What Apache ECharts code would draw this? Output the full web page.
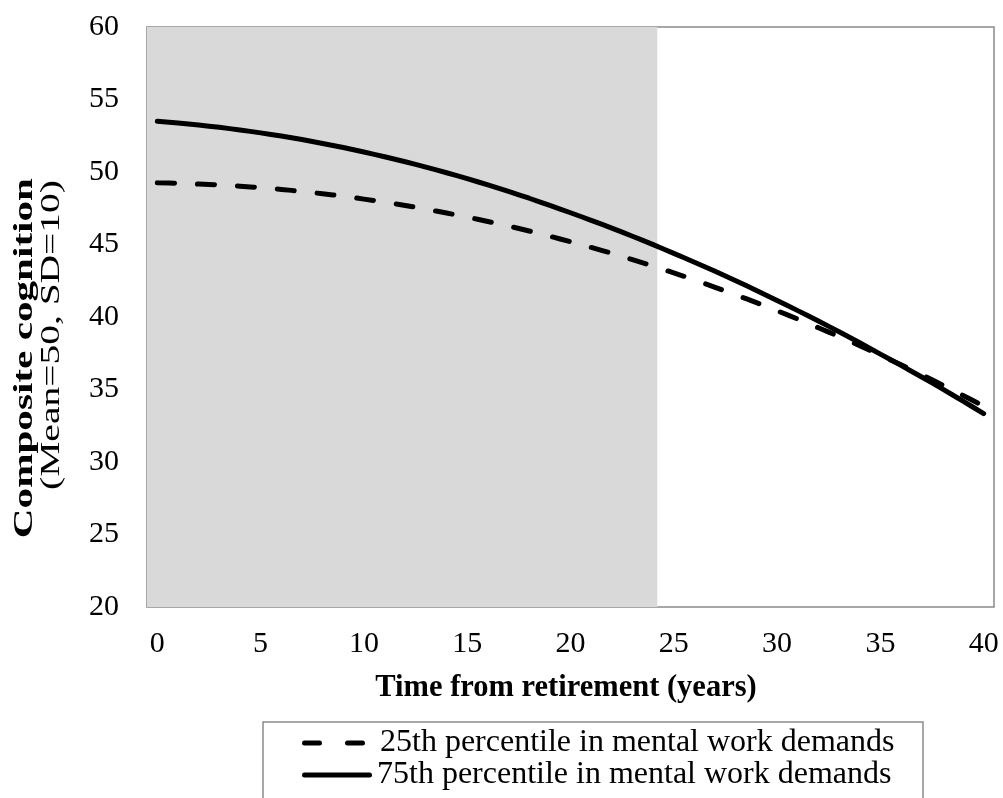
<!DOCTYPE html>
<html>
<head>
<meta charset="utf-8">
<title>Composite cognition by time from retirement</title>
<script src="https://cdn.jsdelivr.net/npm/echarts@6/dist/echarts.min.js"></script>
<style>
  html, body { margin: 0; padding: 0; background: #fff; }
  #chart { width: 1003px; height: 798px; }
</style>
</head>
<body>
<div id="chart"></div>
<script>
// Years since retirement (0..40)
const years = [0,1,2,3,4,5,6,7,8,9,10,11,12,13,14,15,16,17,18,19,20,
               21,22,23,24,25,26,27,28,29,30,31,32,33,34,35,36,37,38,39,40];

// Predicted composite cognition, 25th percentile of mental work demands
const low25 = [49.25,49.22,49.17,49.11,49.02,48.92,48.80,48.66,48.50,48.33,48.13,
               47.92,47.69,47.44,47.17,46.89,46.59,46.27,45.93,45.57,45.19,
               44.80,44.39,43.96,43.51,43.04,42.56,42.05,41.53,40.99,40.43,
               39.86,39.26,38.65,38.02,37.37,36.70,36.02,35.31,34.59,33.85];

// Predicted composite cognition, 75th percentile of mental work demands
const high75 = [53.50,53.38,53.24,53.08,52.90,52.70,52.48,52.24,51.97,51.69,51.38,
                51.05,50.71,50.34,49.95,49.54,49.11,48.66,48.19,47.70,47.19,
                46.67,46.13,45.57,44.99,44.39,43.78,43.15,42.50,41.83,41.14,
                40.44,39.72,38.98,38.22,37.44,36.66,35.86,35.04,34.20,33.34];

// Shaded working-years band (ends at this point on the time axis)
const shadeEnd = 24.2;

const xTicks = [0, 5, 10, 15, 20, 25, 30, 35, 40];
const seriesNames = ['25th percentile in mental work demands', '75th percentile in mental work demands'];
const yTitle = 'Composite cognition';
const ySubTitle = '(Mean=50, SD=10)';
const xTitle = 'Time from retirement (years)';

const serif = '"Liberation Serif", "Times New Roman", serif';
const legendText = { fontFamily: serif, fontSize: 32, color: '#000' };

// legend keys: two dashes for the dashed series, one bar for the solid one
const dashedKey = 'path://M2.5,0H17.5A2.5,2.5,0,0,1,17.5,5H2.5A2.5,2.5,0,0,1,2.5,0Z' +
                  'M45.5,0H60.5A2.5,2.5,0,0,1,60.5,5H45.5A2.5,2.5,0,0,1,45.5,0Z';
const solidKey = 'path://M2.5,0H67.5A2.5,2.5,0,0,1,67.5,5H2.5A2.5,2.5,0,0,1,2.5,0Z';

const pairs = (ys) => years.map((x, i) => [x, ys[i]]);

const chart = echarts.init(document.getElementById('chart'));
chart.setOption({
  backgroundColor: '#ffffff',
  animation: false,
  grid: {
    left: 147, top: 27, right: 9, bottom: 191,
    show: true,
    borderColor: '#8a8a8a',
    borderWidth: 1.5,
    backgroundColor: 'transparent'
  },
  xAxis: {
    type: 'value',
    min: -0.5,
    max: 40.5,
    axisLine: { show: false },
    axisTick: { show: false },
    splitLine: { show: false },
    axisLabel: {
      customValues: xTicks,
      fontFamily: serif,
      fontSize: 30,
      color: '#000',
      margin: 22
    }
  },
  yAxis: {
    type: 'value',
    min: 20,
    max: 60,
    interval: 5,
    axisLine: { show: false },
    axisTick: { show: false },
    splitLine: { show: false },
    axisLabel: {
      fontFamily: serif,
      fontSize: 30,
      color: '#000',
      margin: 28
    }
  },
  // one legend row per series, inside a shared framed box
  legend: [
    {
      left: 302, top: 727, padding: 0,
      icon: dashedKey,
      itemWidth: 63, itemHeight: 5,
      itemStyle: { color: '#000' },
      textStyle: Object.assign({ padding: [0, 0, 0, 10] }, legendText),
      data: [seriesNames[0]]
    },
    {
      left: 302, top: 759, padding: 0,
      icon: solidKey,
      itemWidth: 70, itemHeight: 5,
      itemStyle: { color: '#000' },
      textStyle: Object.assign({ padding: [0, 0, 0, 0] }, legendText),
      data: [seriesNames[1]]
    }
  ],
  graphic: [
    {
      type: 'rect',
      shape: { x: 263, y: 722, width: 660, height: 110 },
      style: { fill: '#fff', stroke: '#8a8a8a', lineWidth: 1.5 },
      silent: true
    },
    {
      type: 'text',
      x: 25, y: 178,
      rotation: Math.PI / 2,
      scaleX: 1.47,
      style: {
        text: yTitle,
        font: 'bold 28px ' + serif,
        fill: '#000',
        textAlign: 'right',
        textVerticalAlign: 'middle'
      }
    },
    {
      type: 'text',
      x: 52, y: 180,
      rotation: Math.PI / 2,
      scaleX: 1.41,
      style: {
        text: ySubTitle,
        font: '28px ' + serif,
        fill: '#000',
        textAlign: 'right',
        textVerticalAlign: 'middle'
      }
    },
    {
      type: 'text',
      x: 566, y: 688,
      style: {
        text: xTitle,
        font: 'bold 30.5px ' + serif,
        fill: '#000',
        textAlign: 'center',
        textVerticalAlign: 'middle'
      }
    }
  ],
  series: [
    {
      // shaded band behind the curves
      type: 'line',
      data: [],
      silent: true,
      markArea: {
        silent: true,
        itemStyle: { color: '#d9d9d9' },
        data: [[{ xAxis: -0.5 }, { xAxis: shadeEnd }]]
      }
    },
    {
      name: seriesNames[0],
      type: 'line',
      data: pairs(low25),
      symbol: 'none',
      smooth: 0.3,
      z: 3,
      lineStyle: { color: '#000', width: 5, type: [17, 23], cap: 'round' },
      itemStyle: { color: '#000' }
    },
    {
      name: seriesNames[1],
      type: 'line',
      data: pairs(high75),
      symbol: 'none',
      smooth: 0.3,
      z: 3,
      lineStyle: { color: '#000', width: 5, cap: 'round' },
      itemStyle: { color: '#000' }
    }
  ]
});
</script>
</body>
</html>
